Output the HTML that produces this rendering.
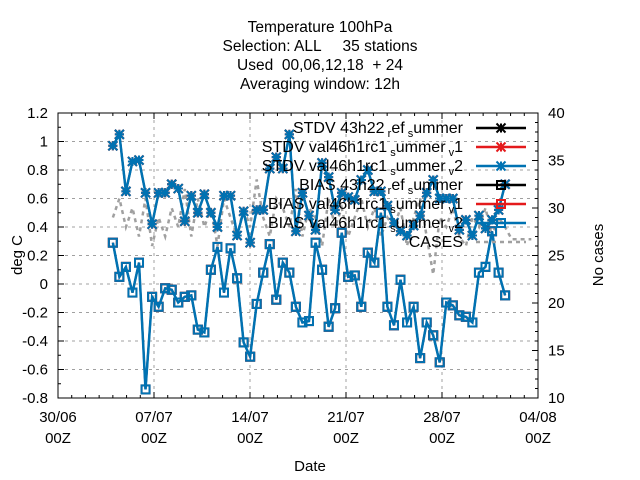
<!DOCTYPE html>
<html><head><meta charset="utf-8"><style>
body{margin:0;background:#fff}
svg{display:block;font-family:"Liberation Sans",sans-serif}
</style></head><body>
<svg id="c" width="640" height="480" viewBox="0 0 640 480">
<rect width="640" height="480" fill="#fff"/>
<g font-size="15.5" text-anchor="middle" fill="#000">
<text x="320" y="32">Temperature 100hPa</text>
<text x="320" y="51" xml:space="preserve">Selection: ALL     35 stations</text>
<text x="320" y="70" xml:space="preserve">Used  00,06,12,18  + 24</text>
<text x="320" y="89">Averaging window: 12h</text>
</g>
<g id="grid"></g><g id="axes"></g><g id="series"></g><g id="legend"></g>
<text x="22" y="255" font-size="15" text-anchor="middle" transform="rotate(-90 22 255)">deg C</text>
<text x="603" y="255" font-size="15" text-anchor="middle" transform="rotate(-90 603 255)">No cases</text>
<text x="310" y="471" font-size="15" text-anchor="middle">Date</text>
</svg>
<script>
const xTickLabels=["30/06","07/07","14/07","21/07","28/07","04/08"];
const xTickDays=[0,7,14,21,28,35];
const yTicks=[-0.8,-0.6,-0.4,-0.2,0,0.2,0.4,0.6,0.8,1,1.2];
const y2Ticks=[10,15,20,25,30,35,40];
const stdv=[0.97,1.05,0.65,0.86,0.87,0.64,0.42,0.64,0.64,0.70,0.67,0.44,0.62,0.50,0.63,0.50,0.40,0.62,0.62,0.34,0.51,0.29,0.52,0.52,0.81,0.89,0.81,1.05,0.37,0.64,0.48,0.38,0.85,0.75,0.52,0.64,0.61,0.59,0.73,0.80,0.65,0.65,0.55,0.43,0.37,0.34,0.41,0.48,0.64,0.73,0.60,0.60,0.60,0.38,0.45,0.34,0.48,0.39,0.45,0.52,0.70];
const bias=[0.29,0.05,0.12,-0.06,0.15,-0.74,-0.09,-0.16,-0.03,-0.04,-0.13,-0.09,-0.08,-0.32,-0.34,0.10,0.26,-0.06,0.25,0.04,-0.41,-0.51,-0.14,0.08,0.28,-0.11,0.15,0.08,-0.16,-0.27,-0.26,0.29,0.10,-0.30,-0.17,0.36,0.05,0.06,-0.16,0.22,0.15,0.50,-0.16,-0.29,0.03,-0.27,-0.16,-0.52,-0.27,-0.36,-0.55,-0.13,-0.15,-0.22,-0.23,-0.27,0.08,0.12,0.37,0.08,-0.08];
const cases=[29,31,28,30,27,31,26,29,27,30,28,32,27,31,28,30,26,31,29,27,30,28,33,29,27,31,30,28,32,27,30,29,26,31,28,30,27,29,31,28,30,27,29,28,30,26,29,31,27,23,29,28,30,27,26,29,28,30,27,29,28,26.7,26.7,26.7,26.7];
const startDay=4.0, stepDay=0.4767;
const L=58,R=538,T=113,B=398;
const xs=d=>L+(d/35)*(R-L);
const ys=v=>B-(v+0.8)/2*(B-T);
const y2s=v=>B-(v-10)/30*(B-T);
const NS="http://www.w3.org/2000/svg";
function mk(t,a,p){const e=document.createElementNS(NS,t);for(const k in a)e.setAttribute(k,a[k]);p.appendChild(e);return e;}
const grid=document.getElementById('grid'),axes=document.getElementById('axes'),ser=document.getElementById('series'),leg=document.getElementById('legend');
yTicks.forEach(v=>{const y=ys(v);
 if(v>-0.8&&v<1.2){const g=mk('line',{x1:L,x2:R,y1:y,y2:y,stroke:'#a0a0a0','stroke-dasharray':'3,4'},grid);}
 mk('line',{x1:L,x2:L+6,y1:y,y2:y,stroke:'#000'},axes);
 const t=mk('text',{x:L-10,y:y+5,'font-size':15,'text-anchor':'end'},axes);t.textContent=(Math.round(v*10)/10).toString();
 });
for(let v=-0.7;v<1.2;v+=0.2){const y=ys(v);mk('line',{x1:L,x2:L+3,y1:y,y2:y,stroke:'#000'},axes);}
y2Ticks.forEach(v=>{const y=y2s(v);mk('line',{x1:R-6,x2:R,y1:y,y2:y,stroke:'#000'},axes);
 const t=mk('text',{x:R+10,y:y+5,'font-size':15},axes);t.textContent=v;
 });
for(let v=11;v<40;v++){if(v%5){const y=y2s(v);mk('line',{x1:R-3,x2:R,y1:y,y2:y,stroke:'#000'},axes);}}
xTickDays.forEach((d,i)=>{const x=xs(d);
 if(d>0&&d<35){const g=mk('line',{x1:x,x2:x,y1:T,y2:B,stroke:'#a0a0a0','stroke-dasharray':'3,4'},grid);}
 mk('line',{x1:x,x2:x,y1:B,y2:B-6,stroke:'#000'},axes);mk('line',{x1:x,x2:x,y1:T,y2:T+6,stroke:'#000'},axes);
 const t=mk('text',{x:x,y:B+24,'font-size':15,'text-anchor':'middle'},axes);t.textContent=xTickLabels[i];
 
 const t2=mk('text',{x:x,y:B+45,'font-size':15,'text-anchor':'middle'},axes);t2.textContent="00Z";
 });
for(let d=1;d<35;d++){if(d%7){const x=xs(d);mk('line',{x1:x,x2:x,y1:B,y2:B-3,stroke:'#000'},axes);mk('line',{x1:x,x2:x,y1:T,y2:T+3,stroke:'#000'},axes);}}
const fr=mk('rect',{x:L,y:T,width:R-L,height:B-T,fill:'none',stroke:'#000'},axes);

const cp=cases.map((v,i)=>xs(startDay+i*stepDay).toFixed(1)+','+y2s(v).toFixed(1)).join(' ');
const cl=mk('polyline',{points:cp,fill:'none',stroke:'#a0a0a0','stroke-width':2.5,'stroke-dasharray':'4,4'},ser);

function star(g,x,y,c){const r=4.5;mk('path',{d:`M${x-r},${y}H${x+r}M${x},${y-r}V${y+r}M${x-r},${y-r}L${x+r},${y+r}M${x-r},${y+r}L${x+r},${y-r}`,stroke:c,'stroke-width':2},g);}
function sq(g,x,y,c){mk('rect',{x:x-4,y:y-4,width:8,height:8,fill:'none',stroke:c,'stroke-width':2},g);}
function series(arr,c,mark,name,w){const g=mk('g',{},ser);
 const pts=arr.map((v,i)=>[xs(startDay+i*stepDay),ys(v)]);
 mk('polyline',{points:pts.map(p=>p[0].toFixed(1)+','+p[1].toFixed(1)).join(' '),fill:'none',stroke:c,'stroke-width':w},g);
 pts.forEach(p=>mark(g,p[0],p[1],c));}
series(stdv,'#000',star,'stdv-ref-series',2);
series(stdv,'#e41a1c',star,'stdv-v1-series',2);
series(stdv,'#0072b2',star,'stdv-v2-series',2.5);
series(bias,'#000',sq,'bias-ref-series',2);
series(bias,'#e41a1c',sq,'bias-v1-series',2);
series(bias,'#0072b2',sq,'bias-v2-series',2.5);
const items=[["STDV 43h22","r","ef","s","ummer",'#000',star],["STDV val46h1rc1","s","ummer","v","1",'#e41a1c',star],["STDV val46h1rc1","s","ummer","v","2",'#0072b2',star],["BIAS 43h22","r","ef","s","ummer",'#000',sq],["BIAS val46h1rc1","s","ummer","v","1",'#e41a1c',sq],["BIAS val46h1rc1","s","ummer","v","2",'#0072b2',sq]];
items.forEach((it,i)=>{const y=128+i*19;const g=mk('g',{},leg);
 const t=mk('text',{x:463,y:y+5,'font-size':16,'text-anchor':'end'},g);
 const parts=[[it[0],0],[" "+it[1],4],[it[2],0],[" "+it[3],4],[it[4],0]];
 let acc=0;
 parts.forEach(p=>{const s=mk('tspan',{},t);if(p[1])s.setAttribute('font-size','11');s.setAttribute('dy',p[1]-acc);acc=p[1];s.textContent=p[0];});
 mk('line',{x1:476,x2:526,y1:y,y2:y,stroke:it[5],'stroke-width':2.5},g);it[6](g,501,y,it[5]);});
const cg=mk('g',{},leg);
const ct=mk('text',{x:463,y:247,'font-size':16,'text-anchor':'end'},cg);ct.textContent="CASES";
mk('line',{x1:476,x2:526,y1:242,y2:242,stroke:'#a0a0a0','stroke-width':2.5,'stroke-dasharray':'4,4'},cg);
</script>
</body></html>
